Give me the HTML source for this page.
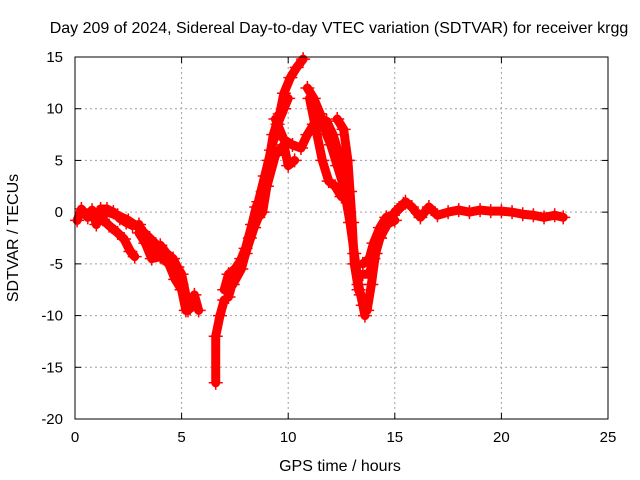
<!DOCTYPE html>
<html><head><meta charset="utf-8"><style>
body{margin:0;background:#fff}
svg{display:block;font-family:"Liberation Sans",sans-serif}
</style></head><body>
<svg id="c" width="640" height="480" viewBox="0 0 640 480"></svg>
<script>
const xTicks=[0,5,10,15,20,25];
const yTicks=[15,10,5,0,-5,-10,-15,-20];
const trackA=[[0.1,-0.8],[0.3,0.3],[0.6,-0.5],[0.8,0.2],[1.0,-1.2],[1.2,0.3],[1.5,0.3],[1.8,0],[2.1,-0.6],[2.4,-1.0],[2.7,-1.3],[3.0,-1.2],[3.3,-2.5],[3.6,-3.8],[4.0,-3.2],[4.3,-4],[4.6,-4.5],[4.8,-5.3],[5.0,-6],[5.2,-8],[5.4,-9.3],[5.6,-8],[5.8,-9.5]];
const trackA2=[[1.5,0],[2.0,-0.3],[2.5,-0.8],[3.0,-1.5],[3.5,-2.5],[4.0,-3.5],[4.5,-5],[5.0,-7],[5.3,-9.5]];
const trackB=[[1.2,-0.5],[1.6,-1.3],[2.0,-2.0],[2.3,-2.6],[2.6,-3.8],[2.8,-4.3]];
const trackB2=[[3.0,-2],[3.3,-3],[3.6,-4.5],[4.0,-4.3],[4.4,-5],[4.7,-6.5],[5.0,-7.5],[5.2,-9.5]];
const trackC=[[6.6,-16.5],[6.6,-12],[6.8,-10],[7.0,-8.5]];
const trackD=[[7.2,-8.2],[7.5,-6],[7.8,-4.5],[8.0,-3.5],[8.3,-1.2],[8.5,0.5],[8.8,2],[9.1,5],[9.3,7.5],[9.6,9.5],[9.8,11.5],[10.1,13],[10.4,14],[10.7,14.8]];
const trackE=[[7.0,-7.5],[7.2,-6],[7.5,-5.5],[8.0,-4],[8.4,-1.5],[8.6,-0.5],[8.8,0],[9.0,2.5],[9.4,5.5],[9.8,6.5],[10.0,4.5],[10.3,5]];
const trackE2=[[7.4,-7],[7.8,-5.5],[8.2,-2.5],[8.6,1],[8.9,3.5],[9.2,6],[9.5,8.5],[9.8,10],[10.0,11]];
const trackF=[[9.4,9],[9.8,7],[10.2,6.5],[10.6,6.2],[10.9,7.5],[11.2,8.5],[11.5,9],[11.8,8.8],[12.1,7.5],[12.4,5.5],[12.6,3.5]];
const trackG=[[10.9,12],[11.2,11],[11.5,9.5],[11.8,7.5],[12.0,6.5],[12.3,4.5],[12.6,2.5],[12.9,-1],[13.1,-4],[13.3,-7],[13.5,-9],[13.6,-10]];
const trackH=[[11.0,11],[11.3,8],[11.6,5],[11.9,3],[12.2,2.5],[12.5,1.5]];
const trackI=[[12.3,9],[12.6,8],[12.8,5],[12.9,2],[13.0,-1],[13.1,-5],[13.3,-7.5],[13.4,-8]];
const trackJ=[[13.5,-5],[13.8,-4.5],[14.0,-3],[14.3,-1.5],[14.6,-0.5],[14.9,-0.3],[15.2,0.3],[15.5,1.0],[15.8,0.5],[16.2,-0.5],[16.6,0.5],[17,-0.3],[17.5,0],[18,0.2],[18.5,0],[19,0.2],[19.5,0.1],[20,0.1],[20.5,0],[21,-0.2],[21.5,-0.3],[22,-0.5],[22.5,-0.3],[22.9,-0.5]];
const trackJ2=[[13.5,-6],[13.8,-6],[14.0,-4.5],[14.3,-2.5],[14.7,-1],[15.0,0],[15.4,0.8]];
const trackK=[[13.7,-9.5],[13.9,-7],[14.1,-4],[14.3,-2.5],[14.6,-1.2],[15.0,-0.8]];
const tracks=[trackA,trackA2,trackB,trackB2,trackC,trackD,trackE,trackE2,trackF,trackG,trackH,trackI,trackJ,trackJ2,trackK];
const X0=75,X1=608,Y0=419,Y1=57;
const sx=t=>X0+(t-0)/(25-0)*(X1-X0);
const sy=v=>Y0-(v+20)/(35)*(Y0-Y1);
const svg=document.getElementById('c');
const NS='http://www.w3.org/2000/svg';
function mk(tag,attrs,parent){const e=document.createElementNS(NS,tag);for(const k in attrs)e.setAttribute(k,attrs[k]);(parent||svg).appendChild(e);return e;}
xTicks.forEach(t=>{const x=sx(t);
 if(t>0&&t<25){const g=mk('line',{x1:x,x2:x,y1:Y0,y2:Y1,stroke:'#a0a0a0','stroke-dasharray':'2,3'});}
 mk('line',{x1:x,x2:x,y1:Y0,y2:Y0-6,stroke:'#000'});mk('line',{x1:x,x2:x,y1:Y1,y2:Y1+6,stroke:'#000'});
 const l=mk('text',{x:x,y:Y0+23,'text-anchor':'middle','font-size':15});l.textContent=t;
 });
yTicks.forEach(v=>{const y=sy(v);
 if(v>-20&&v<15){const g=mk('line',{x1:X0,x2:X1,y1:y,y2:y,stroke:'#a0a0a0','stroke-dasharray':'2,3'});}
 mk('line',{x1:X0,x2:X0+6,y1:y,y2:y,stroke:'#000'});mk('line',{x1:X1,x2:X1-6,y1:y,y2:y,stroke:'#000'});
 const l=mk('text',{x:X0-12,y:y+5,'text-anchor':'end','font-size':15});l.textContent=v;
 });
const sg=mk('g',{});


tracks.forEach(tr=>{
 const p=mk('polyline',{points:tr.map(d=>sx(d[0])+','+sy(d[1])).join(' '),fill:'none',stroke:'#ff0000','stroke-width':9,'stroke-linejoin':'round','stroke-linecap':'round'},sg);
 
 
 tr.forEach(d=>{const x=sx(d[0]),y=sy(d[1]);
  const m=mk('path',{d:`M${x-7},${y}H${x+7}M${x},${y-7}V${y+7}`,stroke:'#ff0000','stroke-width':1.5},sg);
  
  });
});
const fr=mk('rect',{x:X0,y:Y1,width:X1-X0,height:Y0-Y1,fill:'none',stroke:'#000'});

const ti=mk('text',{x:339,y:33,'text-anchor':'middle','font-size':16});ti.textContent='Day 209 of 2024, Sidereal Day-to-day VTEC variation (SDTVAR) for receiver krgg';

const xl=mk('text',{x:340,y:471,'text-anchor':'middle','font-size':16});xl.textContent='GPS time / hours';

const yl=mk('text',{x:0,y:0,'text-anchor':'middle','font-size':16,transform:'translate(18,238) rotate(-90)'});yl.textContent='SDTVAR / TECUs';

</script>
</body></html>
